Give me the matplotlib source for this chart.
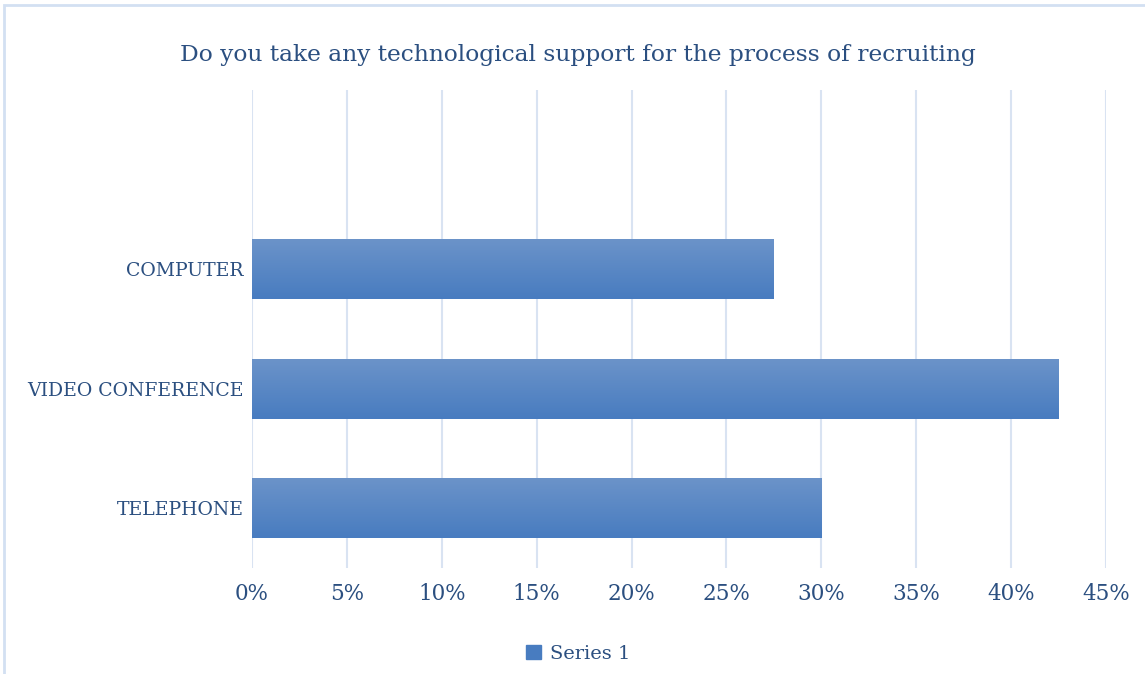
import numpy as np
import matplotlib.pyplot as plt
from matplotlib.patches import Rectangle
from matplotlib.ticker import FuncFormatter

# ------------------------------------------------------------
# Data
# ------------------------------------------------------------
categories = ["TELEPHONE", "VIDEO CONFERENCE", "COMPUTER"]
values = [30.0, 42.5, 27.5]   # percent of respondents
series_name = "Series 1"
title = "Do you take any technological support for the process of recruiting"
x_ticks = [0, 5, 10, 15, 20, 25, 30, 35, 40, 45]

TEXT = "#2b4f80"
GRID = "#d9e3f2"
BORDER = "#d3e0f2"
TOP_COL = np.array([0x6b, 0x93, 0xc9]) / 255
BOT_COL = np.array([0x48, 0x7c, 0xc0]) / 255

plt.rcParams['font.family'] = ['DejaVu Serif']

fig = plt.figure(figsize=(11.45, 6.74), dpi=100)
ax = fig.add_axes([0.2201, 0.1573, 0.7458, 0.7092])

# Outer chart border
fig.patches.append(Rectangle((4 / 1145, -0.01), 1.0, 1 - 5 / 674 + 0.01,
                             transform=fig.transFigure, fill=False,
                             edgecolor=BORDER, linewidth=2))

# Bars, filled with a vertical gradient (lighter at the top)
ypos = np.arange(len(categories))
bars = ax.barh(ypos, values, height=0.5, color=BOT_COL, zorder=2)
grad = np.linspace(0, 1, 64)[:, None]
cols = TOP_COL[None, None, :] * grad[..., None] + BOT_COL[None, None, :] * (1 - grad[..., None])
for b in bars:
    x0, y0 = b.get_x(), b.get_y()
    w, h = b.get_width(), b.get_height()
    im = ax.imshow(cols, extent=(x0, x0 + w, y0, y0 + h), origin='lower',
                   aspect='auto', zorder=3, interpolation='bilinear')
    im.set_clip_path(b)

ax.set_xlim(0, 45)
ax.set_ylim(-0.5, 3.5)
ax.set_xticks(x_ticks)
ax.xaxis.set_major_formatter(FuncFormatter(lambda v, p: f"{v:.0f}%"))
ax.set_yticks(ypos)
ax.set_yticklabels(categories)

ax.grid(axis='x', color=GRID, linewidth=1.5, zorder=0)
ax.set_axisbelow(True)
for s in ax.spines.values():
    s.set_visible(False)
ax.tick_params(axis='both', length=0, colors=TEXT)
ax.tick_params(axis='x', labelsize=15.5, pad=11)
ax.tick_params(axis='y', labelsize=13.6, pad=6)

fig.text(0.505, 1 - 55 / 674, title, ha='center', va='center',
         fontsize=16.8, color=TEXT)

leg = fig.legend([Rectangle((0, 0), 1, 1, color=BOT_COL)], [series_name],
                 loc='center', bbox_to_anchor=(0.505, 1 - 654 / 674),
                 frameon=False, fontsize=14, handlelength=0.75, handleheight=0.75,
                 handletextpad=0.45)
for t in leg.get_texts():
    t.set_color(TEXT)

fig.savefig("out.png", dpi=100)
